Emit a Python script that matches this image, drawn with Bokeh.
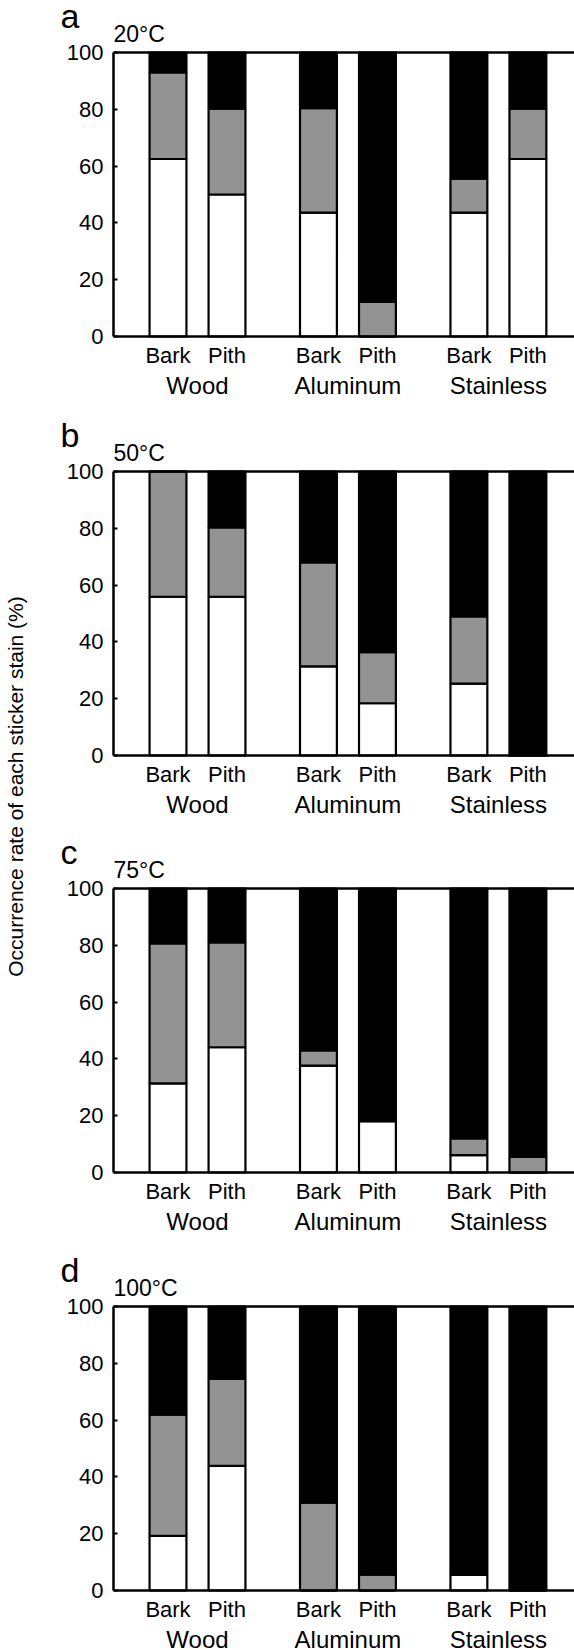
import math
from bokeh.plotting import figure
from bokeh.models import ColumnDataSource, Range1d, LinearAxis, FixedTicker
from bokeh.core.properties import value
from bokeh.embed import file_html
from bokeh.resources import INLINE

# ---------------- data ----------------
groups = ["Wood", "Aluminum", "Stainless"]
parts = ["Bark", "Pith"]
panel_letters = ["a", "b", "c", "d"]
temperatures = ["20°C", "50°C", "75°C", "100°C"]
y_ticks = [0, 20, 40, 60, 80, 100]
y_label = "Occurrence rate of each sticker stain (%)"

# bar order: Wood-Bark, Wood-Pith, Aluminum-Bark, Aluminum-Pith, Stainless-Bark, Stainless-Pith
white_20 = [62.5, 50.0, 43.6, 0.0, 43.6, 62.5]
gray_20 = [30.5, 30.2, 36.8, 12.2, 12.0, 17.7]
black_20 = [7.0, 19.8, 19.6, 87.8, 44.4, 19.8]

white_50 = [55.9, 55.9, 31.4, 18.4, 25.3, 0.0]
gray_50 = [44.1, 24.4, 36.6, 18.0, 23.7, 0.0]
black_50 = [0.0, 19.7, 32.0, 63.6, 51.0, 100.0]

white_75 = [31.4, 44.1, 37.6, 18.1, 6.1, 0.0]
gray_75 = [49.3, 36.9, 5.4, 0.0, 5.9, 5.5]
black_75 = [19.3, 19.0, 57.0, 81.9, 88.0, 94.5]

white_100 = [19.2, 43.9, 0.0, 0.0, 5.6, 0.0]
gray_100 = [42.7, 30.6, 30.9, 5.6, 0.0, 0.0]
black_100 = [38.1, 25.5, 69.1, 94.4, 94.4, 100.0]

panels = [
    (white_20, gray_20, black_20),
    (white_50, gray_50, black_50),
    (white_75, gray_75, black_75),
    (white_100, gray_100, black_100),
]

# ---------------- layout / style ----------------
FONT = "Liberation Sans"
SLOT = 20            # distance between the two bars of a group
GAP = 11             # extra distance between groups
BAR_W = 12.5
GRAY = "#939393"

PAGE_W, PAGE_H = 574, 1648
PXU_X = 2.95                      # px per x unit
PXU_Y = 2.84                      # px per percent
FRAME_LEFT_PX = 113               # x of the y axes
FIRST_BAR_PX = 167.5
PANEL_TOPS_PX = [52, 471, 888, 1306]
PANEL_H_PX = 284
MID = 0.35                        # em distance from text middle to baseline

GROUP_FS, LETTER_FS, TEMP_FS, YLAB_FS = 24, 34, 23, 21

XS = -FIRST_BAR_PX / PXU_X
XE = XS + PAGE_W / PXU_X
X_AXIS = XS + FRAME_LEFT_PX / PXU_X

positions = []
tick_map = {}
group_centers = []
for gi, g in enumerate(groups):
    xs = []
    for k, pname in enumerate(parts):
        x = gi * (2 * SLOT + GAP) + k * SLOT
        positions.append(x)
        tick_map[x] = pname
        xs.append(x)
    group_centers.append(sum(xs) / len(xs))

p = figure(width=PAGE_W, height=PAGE_H, x_range=Range1d(XS, XE),
           y_range=Range1d(PAGE_H, 0), toolbar_location=None,
           output_backend="svg", min_border=0,
           x_axis_type=None, y_axis_type=None)
p.outline_line_color = None
p.xgrid.visible = False
p.ygrid.visible = False

extra = {}
for i, top_px in enumerate(PANEL_TOPS_PX):
    bottom_px = top_px + PANEL_H_PX
    start = -(PAGE_H - bottom_px) / PXU_Y
    extra[f"p{i}"] = Range1d(start, start + PAGE_H / PXU_Y)
p.extra_y_ranges = extra

for i, (wv, gv, bv) in enumerate(panels):
    name = f"p{i}"
    src = ColumnDataSource(dict(x=positions, white=wv, gray=gv, black=bv))
    p.vbar_stack(["white", "gray", "black"], x="x", width=BAR_W, source=src,
                 fill_color=["white", GRAY, "black"], line_color="black",
                 line_width=2.2, y_range_name=name)

    yax = LinearAxis(y_range_name=name, fixed_location=X_AXIS, bounds=(0, 100),
                     ticker=FixedTicker(ticks=y_ticks))
    yax.axis_line_width = 2.5
    yax.major_tick_in = 4
    yax.major_tick_out = 0
    yax.major_tick_line_width = 2
    yax.minor_tick_line_color = None
    yax.major_label_standoff = 10
    yax.major_label_text_font = FONT
    yax.major_label_text_font_size = "22px"
    yax.major_label_text_color = "black"
    p.add_layout(yax, "left")

    xax = LinearAxis(y_range_name=name, fixed_location=0, bounds=(X_AXIS, XE),
                     ticker=FixedTicker(ticks=positions))
    xax.major_label_overrides = tick_map
    xax.axis_line_width = 2.5
    xax.major_tick_line_color = None
    xax.minor_tick_line_color = None
    xax.major_tick_out = 0
    xax.major_tick_in = 0
    xax.major_label_standoff = 6
    xax.major_label_text_font = FONT
    xax.major_label_text_font_size = "22px"
    xax.major_label_text_color = "black"
    p.add_layout(xax, "below")

    top = LinearAxis(y_range_name=name, fixed_location=100, bounds=(X_AXIS, XE),
                     ticker=FixedTicker(ticks=[]))
    top.axis_line_width = 2.5
    top.major_tick_line_color = None
    top.minor_tick_line_color = None
    top.major_tick_out = 0
    top.major_tick_in = 0
    top.major_label_standoff = 0
    top.major_label_text_font_size = "0px"
    p.add_layout(top, "above")

    # group names under the Bark / Pith labels (baseline 57 px under the axis)
    p.text(x=group_centers,
           y=[(-57 + MID * GROUP_FS) / PXU_Y] * len(groups), text=groups,
           text_align="center", text_baseline="middle",
           text_font=value(FONT), text_font_size=f"{GROUP_FS}px",
           text_color="black", y_range_name=name)
    # panel letter (baseline 25 px above the frame)
    p.text(x=[X_AXIS - 53 / PXU_X], y=[100 + (25 + MID * LETTER_FS) / PXU_Y],
           text=[panel_letters[i]], text_align="left", text_baseline="middle",
           text_font=value(FONT), text_font_size=f"{LETTER_FS}px",
           text_color="black", y_range_name=name)
    # temperature (baseline 10 px above the frame)
    p.text(x=[X_AXIS], y=[100 + (10 + MID * TEMP_FS) / PXU_Y],
           text=[temperatures[i]], text_align="left", text_baseline="middle",
           text_font=value(FONT), text_font_size=f"{TEMP_FS}px",
           text_color="black", y_range_name=name)

# shared y-axis title (default y range is in page pixels)
p.text(x=[XS + (22 - MID * YLAB_FS) / PXU_X], y=[786], text=[y_label],
       angle=math.pi / 2, text_align="center", text_baseline="middle",
       text_font=value(FONT), text_font_size=f"{YLAB_FS}px", text_color="black")

open("out.html", "w").write(file_html(p, INLINE))
